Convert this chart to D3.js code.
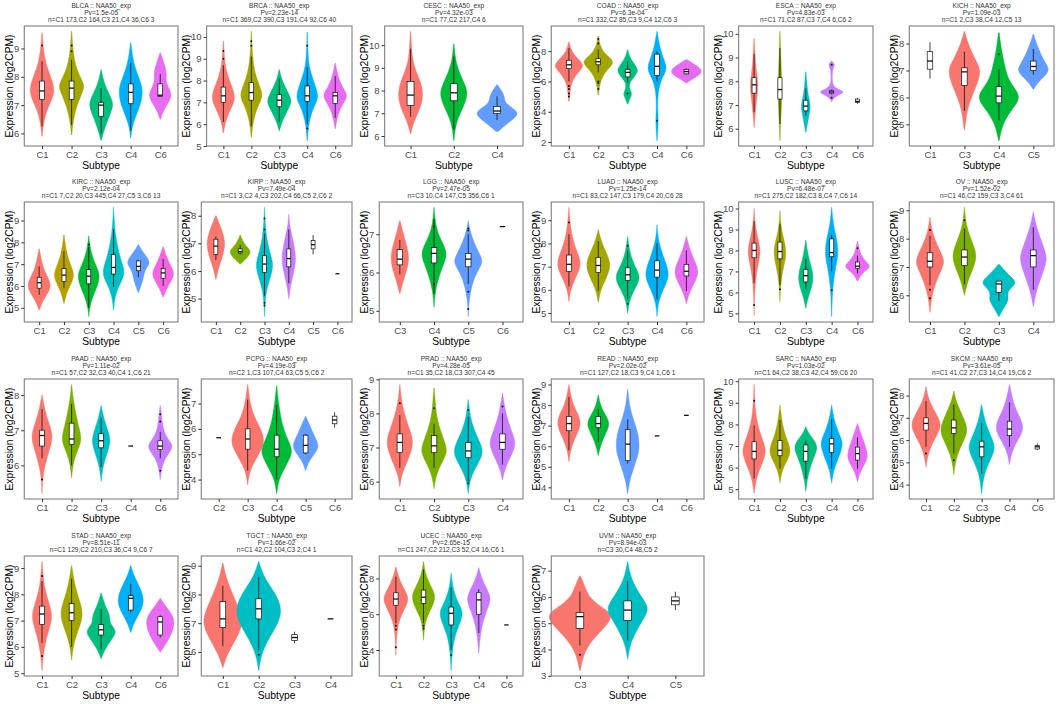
<!DOCTYPE html>
<html>
<head>
<meta charset="utf-8">
<script src="https://cdn.jsdelivr.net/npm/d3@7"></script>
<style>
body { margin: 0; background: #fff; }
text { font-family: "Liberation Sans", Arial, sans-serif; }
</style>
</head>
<body>
<div id="chart"></div>
<script>
// panel headers
var cancers = ["BLCA", "BRCA", "CESC", "COAD", "ESCA", "KICH",
    "KIRC", "KIRP", "LGG", "LUAD", "LUSC", "OV",
    "PAAD", "PCPG", "PRAD", "READ", "SARC", "SKCM",
    "STAD", "TGCT", "UCEC", "UVM"];
var pvalues = ["1.5e-05", "2.23e-14", "4.32e-03", "6.3e-04", "4.83e-03", "1.09e-03",
    "2.12e-04", "7.49e-04", "2.47e-05", "1.25e-14", "6.48e-07", "1.52e-02",
    "1.11e-02", "4.19e-03", "4.28e-05", "2.02e-02", "1.03e-02", "3.61e-05",
    "8.51e-11", "1.66e-02", "2.65e-15", "8.94e-03"];
var counts = ["C1 173,C2 164,C3 21,C4 36,C6 3", "C1 369,C2 390,C3 191,C4 92,C6 40",
    "C1 77,C2 217,C4 6", "C1 332,C2 85,C3 9,C4 12,C6 3", "C1 71,C2 87,C3 7,C4 6,C6 2",
    "C1 2,C3 38,C4 12,C5 13", "C1 7,C2 20,C3 445,C4 27,C5 3,C6 13",
    "C1 3,C2 4,C3 202,C4 66,C5 2,C6 2", "C3 10,C4 147,C5 356,C6 1",
    "C1 83,C2 147,C3 179,C4 20,C6 28", "C1 275,C2 182,C3 8,C4 7,C6 14",
    "C1 46,C2 159,C3 3,C4 61", "C1 57,C2 32,C3 40,C4 1,C6 21",
    "C2 1,C3 107,C4 63,C5 5,C6 2", "C1 35,C2 18,C3 307,C4 45",
    "C1 127,C2 18,C3 9,C4 1,C6 1", "C1 64,C2 38,C3 42,C4 59,C6 20",
    "C1 41,C2 27,C3 14,C4 19,C6 2", "C1 129,C2 210,C3 36,C4 9,C6 7",
    "C1 42,C2 104,C3 2,C4 1", "C1 247,C2 212,C3 52,C4 16,C6 1", "C3 30,C4 48,C5 2"];
var yTicks = [[6, 7, 8, 9], [5, 6, 7, 8, 9, 10], [6, 7, 8, 9, 10], [2, 4, 6, 8], [6, 7, 8, 9, 10], [5, 6, 7, 8],
    [5, 6, 7, 8, 9], [5, 6, 7, 8], [5, 6, 7], [5, 6, 7, 8, 9], [5, 6, 7, 8, 9, 10], [6, 7, 8, 9],
    [6, 7, 8], [4, 5, 6, 7], [6, 7, 8, 9], [4, 5, 6, 7, 8, 9], [5, 6, 7, 8, 9, 10], [4, 5, 6, 7, 8],
    [5, 6, 7, 8, 9], [6, 7, 8, 9], [4, 6, 8], [3, 4, 5, 6, 7]];

// per subtype: w = widest part (in x steps), dens = [value, relative density], box = [lo, q1, med, q3, hi]
var blca = [
    {g: "C1", w: 0.85, dens: [[5.9,.02],[6.3,.1],[6.8,.35],[7.2,.8],[7.5,1],[7.9,.8],[8.3,.42],[8.7,.2],[9.1,.08],[9.55,.02]], box: [6.25,7.2,7.5,7.85,8.55], out: [9.1]},
    {g: "C2", w: 0.88, dens: [[5.95,.02],[6.4,.1],[7.0,.4],[7.5,.88],[7.7,1],[8.0,.65],[8.4,.3],[8.8,.15],[9.2,.06],[9.6,.02]], box: [6.3,7.2,7.6,7.85,8.6], out: [8.9,9.1]},
    {g: "C3", w: 0.88, dens: [[5.75,.02],[6.0,.15],[6.5,.52],[7.0,1],[7.3,.72],[7.7,.3],[8.0,.12],[8.25,.02]], box: [6.0,6.6,7.0,7.1,7.6], out: []},
    {g: "C4", w: 0.85, dens: [[5.85,.02],[6.2,.1],[6.6,.38],[7.0,.78],[7.5,1],[7.9,.72],[8.3,.36],[8.7,.15],[9.2,.02]], box: [6.1,7.05,7.45,7.75,8.5], out: []},
    {g: "C6", w: 0.8, dens: [[6.5,.02],[6.8,.26],[7.1,.72],[7.35,1],[7.6,.72],[7.85,.46],[8.15,.56],[8.5,.3],[8.85,.02]], box: [7.3,7.3,7.35,7.75,8.1], out: []}
];
var brca = [
    {g: "C1", w: 0.82, dens: [[5.6,.02],[6.1,.16],[6.6,.55],[7.0,.93],[7.3,1],[7.7,.78],[8.2,.38],[8.7,.16],[9.2,.07],[9.8,.02]], box: [6.1,7.0,7.3,7.7,8.7], out: [9.0,9.35]},
    {g: "C2", w: 0.8, dens: [[5.4,.02],[6.0,.12],[6.6,.4],[7.1,.88],[7.4,1],[7.8,.7],[8.3,.35],[8.8,.18],[9.5,.06],[10.25,.02]], box: [5.9,7.1,7.45,7.9,9.1], out: [9.6,9.8]},
    {g: "C3", w: 0.9, dens: [[5.7,.02],[6.1,.2],[6.6,.63],[7.0,1],[7.3,.84],[7.7,.47],[8.1,.16],[8.5,.02]], box: [6.1,6.8,7.1,7.35,8.1], out: []},
    {g: "C4", w: 0.8, dens: [[5.25,.02],[5.9,.1],[6.5,.35],[7.0,.82],[7.3,1],[7.8,.7],[8.3,.35],[8.8,.12],[9.5,.05],[10.2,.02]], box: [6.0,7.05,7.3,7.75,8.6], out: [5.8,9.6]},
    {g: "C6", w: 0.88, dens: [[5.8,.02],[6.2,.13],[6.7,.37],[7.1,.84],[7.35,1],[7.7,.58],[8.2,.21],[8.8,.02]], box: [6.3,6.95,7.3,7.45,8.2], out: []}
];
var cesc = [
    {g: "C1", w: 0.57, dens: [[6.1,.03],[6.5,.18],[7.0,.6],[7.5,.96],[8.0,1],[8.5,.74],[9.0,.32],[9.5,.14],[10.0,.07],[10.6,.02]], box: [6.85,7.35,7.8,8.4,9.85], out: []},
    {g: "C2", w: 0.65, dens: [[5.8,.02],[6.3,.09],[6.8,.3],[7.3,.7],[7.8,1],[8.2,.85],[8.7,.46],[9.2,.18],[9.6,.08],[10.05,.02]], box: [6.3,7.55,7.9,8.3,9.5], out: []},
    {g: "C4", w: 1.0, dens: [[6.2,.05],[6.5,.4],[6.8,.85],[7.05,1],[7.3,.6],[7.5,.35],[7.75,.35],[8.0,.2],[8.25,.02]], box: [6.7,7.0,7.1,7.3,7.75], out: []}
];
var coad = [
    {g: "C1", w: 1.05, dens: [[4.7,.02],[5.3,.07],[6.0,.18],[6.6,.6],[7.0,1],[7.4,.7],[7.8,.3],[8.2,.1],[8.6,.02]], box: [6.0,6.85,7.1,7.4,8.2], out: [5.0,5.2,5.5,5.7]},
    {g: "C2", w: 1.05, dens: [[5.1,.02],[5.8,.09],[6.5,.33],[7.0,.83],[7.3,1],[7.6,.72],[8.0,.28],[8.5,.09],[9.0,.02]], box: [6.6,7.1,7.3,7.5,8.1], out: [5.5,5.9,6.0,8.5,8.8]},
    {g: "C3", w: 0.76, dens: [[4.5,.02],[4.9,.24],[5.2,.41],[5.5,.18],[5.9,.14],[6.3,.59],[6.7,1],[7.1,.65],[7.6,.18],[8.1,.02]], box: [5.9,6.3,6.6,6.8,7.3], out: [5.2]},
    {g: "C4", w: 0.65, dens: [[2.1,.02],[2.8,.09],[3.4,.14],[4.2,.07],[5.2,.09],[6.0,.36],[6.6,.9],[7.0,1],[7.6,.64],[8.3,.27],[9.3,.02]], box: [6.0,6.4,7.0,7.8,8.0], out: [3.4]},
    {g: "C6", w: 1.05, dens: [[5.9,.02],[6.2,.47],[6.5,.94],[6.7,1],[6.95,.82],[7.2,.41],[7.45,.02]], box: [6.45,6.5,6.65,6.8,6.85], out: []}
];
var esca = [
    {g: "C1", w: 0.3, dens: [[6.05,.04],[6.5,.2],[7.0,.52],[7.5,.88],[7.9,1],[8.3,.7],[8.8,.36],[9.3,.18],[9.8,.04]], box: [6.7,7.5,7.85,8.15,9.15], out: []},
    {g: "C2", w: 0.18, dens: [[5.5,.05],[6.2,.28],[7.0,.66],[7.6,1],[8.2,.72],[9.0,.38],[9.5,.22],[10.1,.05]], box: [6.2,7.25,7.65,8.15,9.4], out: []},
    {g: "C3", w: 0.37, dens: [[5.85,.05],[6.3,.43],[6.75,.86],[7.0,1],[7.4,.5],[7.9,.23],[8.4,.05]], box: [6.55,6.75,6.95,7.2,7.7], out: []},
    {g: "C4", w: 1.0, dens: [[7.15,.02],[7.3,.16],[7.45,.66],[7.55,1],[7.65,.55],[7.8,.07],[8.2,.04],[8.55,.09],[8.7,.28],[8.85,.02]], box: [7.45,7.5,7.55,7.6,7.65], out: [7.3,8.7]},
    {g: "C6", box: [7.05,7.1,7.15,7.25,7.3], out: []}
];
var kich = [
    {g: "C1", box: [6.7,7.05,7.35,7.7,8.05], out: []},
    {g: "C3", w: 0.9, dens: [[4.8,.02],[5.3,.12],[5.8,.3],[6.3,.69],[6.8,1],[7.1,1],[7.5,.62],[8.0,.23],[8.45,.02]], box: [5.5,6.45,6.95,7.1,7.7], out: []},
    {g: "C4", w: 1.2, dens: [[4.4,.02],[5.0,.17],[5.5,.58],[5.9,1],[6.2,.92],[6.6,.5],[7.0,.33],[7.6,.17],[8.0,.08],[8.4,.02]], box: [5.15,5.8,6.05,6.4,7.05], out: [7.6]},
    {g: "C5", w: 0.9, dens: [[6.3,.02],[6.6,.35],[6.9,.94],[7.1,1],[7.4,.65],[7.8,.35],[8.1,.14],[8.35,.02]], box: [6.85,7.0,7.15,7.35,7.8], out: []}
];
var kirc = [
    {g: "C1", w: 0.95, dens: [[4.9,.02],[5.3,.28],[5.7,.78],[6.0,1],[6.3,.83],[6.7,.44],[7.1,.22],[7.7,.02]], box: [5.6,5.9,6.15,6.4,6.9], out: []},
    {g: "C2", w: 0.85, dens: [[5.2,.02],[5.7,.25],[6.1,.69],[6.5,1],[6.9,.69],[7.3,.38],[7.8,.15],[8.35,.02]], box: [5.9,6.2,6.5,6.8,7.6], out: []},
    {g: "C3", w: 0.92, dens: [[4.6,.01],[5.0,.07],[5.5,.33],[6.0,.78],[6.5,1],[6.9,.67],[7.4,.28],[7.9,.09],[8.3,.01]], box: [5.0,6.1,6.45,6.75,7.8], out: [7.9]},
    {g: "C4", w: 0.9, dens: [[4.9,.01],[5.5,.12],[6.0,.47],[6.5,1],[6.9,.88],[7.4,.53],[8.0,.29],[8.6,.12],[9.1,.05],[9.6,.01]], box: [5.95,6.55,6.85,7.45,8.6], out: []},
    {g: "C5", w: 0.95, dens: [[5.7,.02],[6.0,.21],[6.3,.42],[6.6,.47],[6.9,.79],[7.1,1],[7.4,.63],[7.7,.21],[7.9,.02]], box: [6.4,6.7,6.9,7.15,7.2], out: []},
    {g: "C6", w: 0.9, dens: [[5.5,.02],[5.9,.33],[6.3,.83],[6.6,1],[6.9,.72],[7.3,.33],[7.8,.02]], box: [6.0,6.35,6.6,6.8,7.25], out: []}
];
var kirp = [
    {g: "C1", w: 0.75, dens: [[5.7,.03],[6.1,.27],[6.5,.73],[6.9,1],[7.2,.93],[7.6,.53],[8.0,.03]], box: [6.4,6.6,6.9,7.15,7.25], out: []},
    {g: "C2", w: 0.9, dens: [[6.25,.02],[6.45,.56],[6.65,1],[6.8,.83],[7.0,.33],[7.3,.02]], box: [6.6,6.65,6.7,6.8,6.95], out: []},
    {g: "C3", w: 0.75, dens: [[4.35,.01],[4.8,.05],[5.3,.2],[5.8,.67],[6.2,1],[6.6,.67],[7.0,.33],[7.5,.13],[8.0,.04],[8.3,.01]], box: [5.1,5.95,6.25,6.55,7.35], out: [4.75,4.85,7.5,7.9]},
    {g: "C4", w: 0.6, dens: [[5.0,.02],[5.5,.25],[6.0,.75],[6.45,1],[6.9,.75],[7.4,.33],[7.7,.1],[8.05,.02]], box: [5.55,6.15,6.45,6.8,7.5], out: []},
    {g: "C5", box: [6.6,6.8,6.95,7.1,7.3], out: []},
    {g: "C6", box: [5.9,5.9,5.9,5.9,5.9], out: []}
];
var lgg = [
    {g: "C3", w: 0.55, dens: [[5.45,.03],[5.8,.38],[6.1,.81],[6.4,1],[6.7,.75],[7.0,.38],[7.35,.03]], box: [5.95,6.2,6.35,6.6,6.85], out: []},
    {g: "C4", w: 0.8, dens: [[5.1,.01],[5.5,.08],[5.9,.37],[6.2,.68],[6.5,1],[6.8,.58],[7.1,.21],[7.4,.07],[7.7,.01]], box: [5.45,6.25,6.5,6.65,7.4], out: [5.7,7.2]},
    {g: "C5", w: 0.87, dens: [[4.85,.01],[5.3,.05],[5.8,.32],[6.1,.74],[6.3,1],[6.5,.74],[6.8,.37],[7.1,.11],[7.35,.01]], box: [5.7,6.15,6.35,6.5,7.0], out: [5.05,5.5,7.1,7.15]},
    {g: "C6", box: [7.2,7.2,7.2,7.2,7.2], out: []}
];
var luad = [
    {g: "C1", w: 0.82, dens: [[5.5,.01],[6.0,.12],[6.5,.53],[7.0,1],[7.4,.88],[7.9,.47],[8.4,.24],[8.9,.09],[9.55,.01]], box: [6.15,6.8,7.1,7.5,8.4], out: [8.9]},
    {g: "C2", w: 0.85, dens: [[5.45,.01],[6.0,.18],[6.5,.65],[7.0,1],[7.4,.82],[7.8,.47],[8.2,.18],[8.6,.01]], box: [5.95,6.75,7.05,7.4,8.1], out: []},
    {g: "C3", w: 0.9, dens: [[5.0,.01],[5.5,.11],[6.0,.5],[6.5,1],[6.9,.67],[7.3,.33],[7.8,.11],[8.3,.01]], box: [5.6,6.4,6.65,6.95,7.7], out: [5.4,7.9]},
    {g: "C4", w: 0.8, dens: [[4.85,.01],[5.4,.08],[6.0,.5],[6.5,1],[6.9,.94],[7.4,.56],[8.0,.19],[8.4,.06],[8.8,.01]], box: [5.6,6.55,6.85,7.25,8.0], out: []},
    {g: "C6", w: 0.85, dens: [[5.4,.01],[5.9,.24],[6.4,.76],[6.8,1],[7.2,.71],[7.7,.29],[8.3,.01]], box: [5.95,6.6,6.8,7.1,7.7], out: []}
];
var lusc = [
    {g: "C1", w: 0.5, dens: [[4.9,.01],[5.5,.06],[6.3,.14],[7.0,.41],[7.6,.82],[8.0,1],[8.5,.65],[9.0,.29],[9.5,.09],[10.0,.01]], box: [6.45,7.65,8.0,8.35,9.4], out: [5.4]},
    {g: "C2", w: 0.5, dens: [[5.55,.01],[6.2,.09],[6.8,.29],[7.4,.71],[7.9,1],[8.4,.71],[8.9,.29],[9.4,.09],[9.9,.01]], box: [6.35,7.6,7.95,8.4,9.25], out: [6.15]},
    {g: "C3", w: 0.58, dens: [[5.25,.02],[5.7,.25],[6.2,.75],[6.6,1],[7.0,.92],[7.5,.5],[8.0,.2],[8.5,.02]], box: [6.15,6.5,6.8,7.1,7.6], out: []},
    {g: "C4", w: 0.5, dens: [[4.85,.02],[5.5,.07],[6.2,.17],[7.0,.5],[7.6,.92],[8.0,1],[8.5,.83],[9.0,.42],[9.5,.17],[10.05,.02]], box: [7.0,7.7,7.9,8.55,8.75], out: [6.1]},
    {g: "C6", w: 0.96, dens: [[6.55,.02],[6.9,.33],[7.15,.94],[7.3,1],[7.5,.61],[7.8,.28],[8.1,.13],[8.45,.01]], box: [6.9,7.15,7.25,7.45,7.75], out: [8.1]}
];
var ov = [
    {g: "C1", w: 0.87, dens: [[5.4,.01],[5.9,.09],[6.4,.35],[6.9,.76],[7.2,1],[7.6,.65],[8.0,.29],[8.4,.09],[8.75,.01]], box: [6.35,7.0,7.2,7.5,8.1], out: [5.9,6.2,8.3]},
    {g: "C2", w: 0.73, dens: [[6.0,.01],[6.5,.25],[7.0,.75],[7.4,1],[7.8,.69],[8.3,.25],[8.7,.08],[9.1,.01]], box: [6.4,7.05,7.35,7.6,8.35], out: [8.65]},
    {g: "C3", w: 1.0, dens: [[5.25,.02],[5.55,.28],[5.85,.61],[6.1,.44],[6.35,.89],[6.5,1],[6.75,.5],[7.1,.02]], box: [5.8,6.1,6.4,6.5,6.5], out: []},
    {g: "C4", w: 0.78, dens: [[5.6,.01],[6.1,.19],[6.6,.56],[7.1,.94],[7.4,1],[7.8,.69],[8.3,.31],[8.7,.1],[8.95,.01]], box: [6.2,7.0,7.4,7.6,8.4], out: []}
];
var paad = [
    {g: "C1", w: 0.72, dens: [[5.2,.01],[5.7,.06],[6.2,.44],[6.6,.88],[6.9,1],[7.2,.63],[7.6,.25],[8.0,.01]], box: [6.2,6.55,6.85,7.0,7.6], out: [5.6]},
    {g: "C2", w: 0.7, dens: [[5.65,.01],[6.1,.15],[6.5,.69],[6.75,1],[7.1,.69],[7.5,.38],[7.9,.15],[8.3,.01]], box: [6.0,6.6,6.75,7.2,7.75], out: []},
    {g: "C3", w: 0.66, dens: [[5.55,.01],[6.0,.19],[6.4,.69],[6.7,1],[7.0,.69],[7.3,.31],[7.7,.01]], box: [5.95,6.5,6.7,6.9,7.35], out: []},
    {g: "C4", box: [6.55,6.55,6.55,6.55,6.55], out: []},
    {g: "C6", w: 0.83, dens: [[5.6,.01],[5.9,.1],[6.2,.38],[6.45,.94],[6.6,1],[6.8,.5],[7.1,.19],[7.4,.13],[7.7,.01]], box: [6.2,6.45,6.55,6.7,6.95], out: [5.85,7.25,7.45]}
];
var pcpg = [
    {g: "C2", box: [5.65,5.65,5.65,5.65,5.65], out: []},
    {g: "C3", w: 1.13, dens: [[3.8,.01],[4.3,.1],[4.8,.5],[5.3,.94],[5.6,1],[6.0,.81],[6.5,.38],[7.0,.15],[7.75,.01]], box: [4.35,5.2,5.6,6.0,7.15], out: []},
    {g: "C4", w: 1.07, dens: [[3.45,.01],[4.0,.13],[4.5,.56],[5.0,1],[5.3,.94],[5.8,.56],[6.3,.31],[7.0,.13],[7.7,.01]], box: [4.0,4.9,5.2,5.75,6.95], out: []},
    {g: "C5", w: 0.95, dens: [[4.35,.01],[4.7,.21],[5.0,.63],[5.3,1],[5.6,.74],[6.0,.42],[6.5,.01]], box: [5.0,5.05,5.35,5.75,5.8], out: []},
    {g: "C6", box: [6.05,6.2,6.35,6.5,6.65], out: []}
];
var prad = [
    {g: "C1", w: 0.75, dens: [[5.85,.01],[6.2,.13],[6.6,.6],[7.0,1],[7.3,1],[7.7,.6],[8.1,.27],[8.5,.09],[8.85,.01]], box: [6.4,6.85,7.15,7.4,7.95], out: [8.3]},
    {g: "C2", w: 0.8, dens: [[5.8,.01],[6.2,.15],[6.6,.63],[6.9,1],[7.2,.75],[7.6,.38],[8.0,.15],[8.4,.08],[8.75,.01]], box: [6.4,6.85,7.05,7.35,7.7], out: [8.15]},
    {g: "C3", w: 0.9, dens: [[5.65,.01],[6.0,.09],[6.4,.44],[6.8,1],[7.1,.83],[7.5,.39],[7.9,.13],[8.4,.01]], box: [6.0,6.7,6.9,7.15,7.9], out: [5.95,8.1]},
    {g: "C4", w: 0.8, dens: [[6.05,.01],[6.4,.19],[6.8,.69],[7.1,1],[7.4,.75],[7.8,.38],[8.2,.15],[8.6,.01]], box: [6.5,6.95,7.15,7.4,8.0], out: [8.2]}
];
var read = [
    {g: "C1", w: 0.8, dens: [[5.25,.01],[5.8,.13],[6.3,.44],[6.8,.88],[7.2,1],[7.6,.75],[8.0,.38],[8.5,.15],[9.0,.01]], box: [5.8,6.75,7.1,7.45,8.4], out: []},
    {g: "C2", w: 0.75, dens: [[5.55,.01],[6.0,.19],[6.5,.56],[6.9,.94],[7.2,1],[7.6,.56],[8.0,.19],[8.5,.01]], box: [6.2,6.9,7.1,7.45,7.8], out: []},
    {g: "C3", w: 0.8, dens: [[3.7,.02],[4.3,.15],[5.0,.55],[5.6,.91],[6.0,1],[6.6,.91],[7.2,.55],[7.8,.22],[8.3,.09],[8.75,.02]], box: [5.15,5.3,6.1,6.8,7.3], out: []},
    {g: "C4", box: [6.5,6.5,6.5,6.5,6.5], out: []},
    {g: "C6", box: [7.5,7.5,7.5,7.5,7.5], out: []}
];
var sarc = [
    {g: "C1", w: 0.9, dens: [[4.8,.01],[5.4,.14],[6.0,.53],[6.5,.94],[6.9,1],[7.4,.65],[8.0,.29],[8.6,.12],[9.2,.05],[9.85,.01]], box: [5.5,6.4,6.75,7.2,7.95], out: [9.1]},
    {g: "C2", w: 0.85, dens: [[5.3,.01],[5.9,.18],[6.4,.76],[6.8,1],[7.2,.71],[7.7,.35],[8.3,.14],[8.9,.01]], box: [5.95,6.55,6.8,7.25,8.2], out: []},
    {g: "C3", w: 0.9, dens: [[4.9,.01],[5.4,.11],[5.9,.33],[6.3,.56],[6.7,.89],[7.0,1],[7.3,.67],[7.6,.22],[7.9,.01]], box: [5.5,6.3,6.75,7.05,7.25], out: []},
    {g: "C4", w: 0.85, dens: [[5.3,.01],[5.9,.18],[6.4,.59],[6.9,.94],[7.2,1],[7.6,.65],[8.1,.29],[8.5,.12],[8.9,.01]], box: [5.95,6.7,7.1,7.35,8.25], out: []},
    {g: "C6", w: 0.8, dens: [[5.35,.01],[5.8,.25],[6.2,.75],[6.5,1],[6.8,.88],[7.2,.63],[7.6,.31],[8.05,.01]], box: [5.95,6.35,6.65,6.95,7.4], out: []}
];
var skcm = [
    {g: "C1", w: 1.1, dens: [[4.8,.01],[5.3,.11],[5.8,.37],[6.3,.79],[6.7,1],[7.1,.74],[7.6,.32],[8.0,.11],[8.4,.01]], box: [5.7,6.45,6.75,7.0,7.75], out: [5.4]},
    {g: "C2", w: 1.0, dens: [[4.45,.01],[5.0,.09],[5.6,.41],[6.1,.82],[6.5,1],[6.9,.76],[7.4,.41],[7.8,.14],[8.2,.01]], box: [5.4,6.3,6.55,6.9,7.6], out: [5.1]},
    {g: "C3", w: 0.97, dens: [[3.6,.01],[4.2,.1],[4.8,.38],[5.3,.81],[5.7,1],[6.1,.75],[6.6,.38],[7.1,.15],[7.6,.01]], box: [4.5,5.25,5.7,5.95,6.75], out: []},
    {g: "C4", w: 1.0, dens: [[4.9,.01],[5.4,.13],[5.9,.5],[6.4,1],[6.8,.94],[7.3,.5],[7.9,.19],[8.5,.01]], box: [5.7,6.2,6.5,6.85,7.7], out: []},
    {g: "C6", box: [5.55,5.6,5.7,5.75,5.85], out: []}
];
var stad = [
    {g: "C1", w: 0.7, dens: [[5.1,.01],[5.7,.11],[6.3,.4],[6.8,.8],[7.2,1],[7.6,.73],[8.1,.33],[8.6,.13],[9.25,.01]], box: [6.15,6.85,7.25,7.55,8.5], out: [5.65,8.7]},
    {g: "C2", w: 0.75, dens: [[5.5,.01],[6.0,.13],[6.5,.47],[7.0,.93],[7.4,1],[7.9,.6],[8.4,.27],[9.1,.01]], box: [6.0,7.0,7.3,7.65,8.6], out: []},
    {g: "C3", w: 1.1, dens: [[5.55,.01],[5.9,.22],[6.3,.67],[6.6,1],[6.9,.5],[7.2,.56],[7.5,.28],[8.05,.01]], box: [5.9,6.45,6.65,6.85,7.45], out: []},
    {g: "C4", w: 0.92, dens: [[6.55,.01],[6.9,.22],[7.3,.67],[7.7,1],[8.1,.83],[8.5,.44],[8.8,.17],[9.1,.01]], box: [7.3,7.4,7.85,7.95,8.4], out: []},
    {g: "C6", w: 0.97, dens: [[5.8,.01],[6.1,.38],[6.5,.81],[6.9,1],[7.2,.88],[7.5,.44],[7.85,.01]], box: [6.35,6.45,6.95,7.15,7.2], out: []}
];
var tgct = [
    {g: "C1", w: 1.1, dens: [[5.45,.01],[5.9,.21],[6.4,.63],[6.9,1],[7.3,.95],[7.8,.63],[8.3,.32],[8.7,.13],[9.1,.01]], box: [6.2,6.85,7.15,7.75,8.3], out: []},
    {g: "C2", w: 1.3, dens: [[5.35,.01],[5.9,.1],[6.5,.45],[7.0,.85],[7.5,1],[8.0,.75],[8.5,.3],[8.9,.1],[9.15,.01]], box: [6.05,7.15,7.5,7.85,8.6], out: [5.9]},
    {g: "C3", box: [6.3,6.4,6.5,6.6,6.7], out: []},
    {g: "C4", box: [7.15,7.15,7.15,7.15,7.15], out: []}
];
var ucec = [
    {g: "C1", w: 0.9, dens: [[3.7,.01],[4.5,.04],[5.3,.12],[6.0,.47],[6.6,.94],[7.0,1],[7.5,.59],[8.0,.24],[8.65,.01]], box: [5.5,6.5,6.85,7.2,8.1], out: [4.15,5.15,5.35]},
    {g: "C2", w: 0.9, dens: [[4.55,.01],[5.2,.06],[5.8,.24],[6.4,.71],[7.0,1],[7.5,.65],[8.0,.29],[8.5,.09],[8.95,.01]], box: [5.5,6.6,6.95,7.35,8.5], out: [5.2,5.35]},
    {g: "C3", w: 0.9, dens: [[2.85,.01],[3.5,.05],[4.2,.14],[4.9,.35],[5.5,.71],[6.1,1],[6.6,.59],[7.2,.24],[7.8,.08],[8.3,.01]], box: [4.0,5.4,6.05,6.4,7.5], out: [3.7]},
    {g: "C4", w: 0.85, dens: [[3.8,.01],[4.5,.08],[5.3,.25],[6.0,.56],[6.6,.94],[7.0,1],[7.5,.63],[8.0,.25],[8.6,.01]], box: [4.95,6.0,6.8,7.2,7.4], out: []},
    {g: "C6", box: [5.4,5.4,5.4,5.4,5.4], out: []}
];
var uvm = [
    {g: "C3", w: 1.45, dens: [[3.2,.01],[3.8,.1],[4.3,.31],[4.8,.69],[5.3,1],[5.6,.63],[6.0,.25],[6.4,.15],[6.8,.01]], box: [4.15,4.8,5.25,5.4,6.2], out: [3.8]},
    {g: "C4", w: 0.88, dens: [[3.65,.01],[4.2,.11],[4.8,.47],[5.3,.87],[5.6,1],[6.0,.67],[6.5,.27],[7.0,.08],[7.35,.01]], box: [4.35,5.1,5.5,5.85,6.6], out: []},
    {g: "C5", box: [5.5,5.7,5.85,6.0,6.2], out: []}
];
var panels = [blca, brca, cesc, coad, esca, kich, kirc, kirp, lgg, luad, lusc, ov,
    paad, pcpg, prad, read, sarc, skcm, stad, tgct, ucec, uvm];

// ggplot default hue palettes, picked by number of violins in a panel
var huePalettes = {
    2: ["#F8766D", "#00BFC4"],
    3: ["#F8766D", "#00BA38", "#619CFF"],
    4: ["#F8766D", "#7CAE00", "#00BFC4", "#C77CFF"],
    5: ["#F8766D", "#A3A500", "#00BF7D", "#00B0F6", "#E76BF3"],
    6: ["#F8766D", "#B79F00", "#00BA38", "#00BFC4", "#619CFF", "#F564E3"]
};

// layout of the 6 x 4 grid
var colX = [0, 177, 355, 527, 709, 885];
var colRight = [178, 352, 523, 704, 873, 1054];
var rowY = [0, 176, 353, 530];

var svg = d3.select("#chart").append("svg")
    .attr("width", 1059)
    .attr("height", 704);

svg.append("rect")
    .attr("width", 1059)
    .attr("height", 704)
    .attr("fill", "#fff");

cancers.forEach(function (name, i) {
    var col = i % 6;
    var row = Math.floor(i / 6);
    drawPanel(i, colX[col], colRight[col], rowY[row]);
});

function drawPanel(i, x0, right, y0) {
    var groups = panels[i];
    var ticks = yTicks[i];
    var maxLen = d3.max(ticks, function (t) { return String(t).length; });
    var left = x0 + 19 + maxLen * 5.3;
    var top = y0 + 26;
    var bottom = y0 + 146;

    // y range as ggplot: data extent plus 5%
    var vals = [];
    groups.forEach(function (d) {
        vals = vals.concat(d.box, d.out);
        if (d.dens) {
            d.dens.forEach(function (p) { vals.push(p[0]); });
        }
    });
    var ext = d3.extent(vals);
    var pad = (ext[1] - ext[0]) * 0.05;

    var y = d3.scaleLinear()
        .domain([ext[0] - pad, ext[1] + pad])
        .range([bottom, top]);

    var x = d3.scalePoint()
        .domain(groups.map(function (d) { return d.g; }))
        .range([left, right])
        .padding(0.6);
    var step = x.step();

    var violinGroups = groups.filter(function (d) { return d.dens; })
        .map(function (d) { return d.g; });
    var color = d3.scaleOrdinal()
        .domain(violinGroups)
        .range(huePalettes[violinGroups.length]);

    var g = svg.append("g").attr("class", "panel");

    // title
    var titles = [cancers[i] + " :: NAA50_exp", "Pv=" + pvalues[i], "n=" + counts[i]];
    g.selectAll(".title")
        .data(titles)
        .enter()
        .append("text")
        .attr("class", "title")
        .attr("x", (left + right) / 2)
        .attr("y", function (d, k) { return y0 + 7.5 + k * 7; })
        .attr("text-anchor", "middle")
        .attr("font-size", 6.6)
        .attr("fill", "#333")
        .text(function (d) { return d; });

    // violins
    groups.filter(function (d) { return d.dens; }).forEach(function (d) {
        var cx = x(d.g);
        var wScale = d3.scaleLinear()
            .domain([0, d3.max(d.dens, function (p) { return p[1]; })])
            .range([0, d.w * step / 2]);
        var area = d3.area()
            .y(function (p) { return y(p[0]); })
            .x0(function (p) { return cx - wScale(p[1]); })
            .x1(function (p) { return cx + wScale(p[1]); })
            .curve(d3.curveBasis);
        g.append("path")
            .datum(d.dens)
            .attr("d", area)
            .attr("fill", color(d.g))
            .attr("stroke", color(d.g))
            .attr("stroke-width", 0.4);
    });

    // boxplots
    var bw = step * 0.16;
    groups.forEach(function (d) {
        var cx = x(d.g);
        var b = d.box;
        g.append("line")
            .attr("x1", cx).attr("x2", cx)
            .attr("y1", y(b[0])).attr("y2", y(b[4]))
            .attr("stroke", "#111")
            .attr("stroke-width", 0.8);
        g.append("rect")
            .attr("x", cx - bw / 2)
            .attr("y", y(b[3]))
            .attr("width", bw)
            .attr("height", y(b[1]) - y(b[3]))
            .attr("fill", "#fff")
            .attr("stroke", "#111")
            .attr("stroke-width", 0.7);
        g.append("line")
            .attr("x1", cx - bw / 2).attr("x2", cx + bw / 2)
            .attr("y1", y(b[2])).attr("y2", y(b[2]))
            .attr("stroke", "#111")
            .attr("stroke-width", 1.3);
        g.selectAll(null)
            .data(d.out)
            .enter()
            .append("circle")
            .attr("cx", cx)
            .attr("cy", function (v) { return y(v); })
            .attr("r", 1)
            .attr("fill", "#111");
    });

    // frame
    g.append("rect")
        .attr("x", left)
        .attr("y", top)
        .attr("width", right - left)
        .attr("height", bottom - top)
        .attr("fill", "none")
        .attr("stroke", "#8a8a8a")
        .attr("stroke-width", 1.2);

    // axes
    var yAxis = g.append("g")
        .attr("transform", "translate(" + left + ",0)")
        .call(d3.axisLeft(y).tickValues(ticks).tickFormat(d3.format("d")).tickSize(3).tickPadding(2));
    var xAxis = g.append("g")
        .attr("transform", "translate(0," + bottom + ")")
        .call(d3.axisBottom(x).tickSize(3).tickPadding(2));
    [yAxis, xAxis].forEach(function (a) {
        a.select(".domain").remove();
        a.selectAll(".tick line").attr("stroke", "#333");
        a.selectAll(".tick text")
            .attr("font-size", 9.5)
            .attr("fill", "#4d4d4d")
            .attr("font-family", "Liberation Sans, Arial, sans-serif");
    });

    g.append("text")
        .attr("x", (left + right) / 2)
        .attr("y", bottom + 23)
        .attr("text-anchor", "middle")
        .attr("font-size", 10.3)
        .attr("fill", "#000")
        .text("Subtype");

    g.append("text")
        .attr("transform", "translate(" + (x0 + 9) + "," + ((top + bottom) / 2) + ") rotate(-90)")
        .attr("text-anchor", "middle")
        .attr("dominant-baseline", "central")
        .attr("font-size", 10.3)
        .attr("fill", "#000")
        .text("Expression (log2CPM)");
}
</script>
</body>
</html>
